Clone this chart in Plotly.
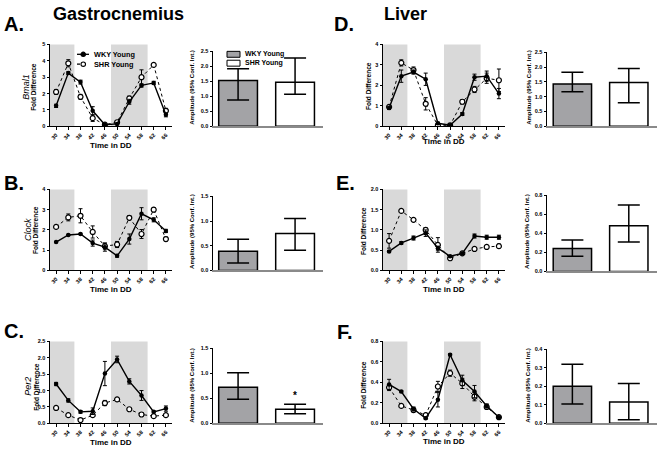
import plotly.graph_objects as go

W, H = 661, 451
FONT = "Arial, Liberation Sans, sans-serif"

# ---------------- data ----------------
time_dd = [30, 34, 38, 42, 46, 50, 54, 58, 62, 66]
night_bands = [(28, 36), (48, 60)]
groups = ["WKY Young", "SHR Young"]

# Gastrocnemius
gas_bmal1_wky = [1.25, 3.25, 2.7, 0.95, 0.1, 0.15, 1.5, 2.5, 2.65, 0.7]
gas_bmal1_wky_err = [0.1, 0.08, 0.12, 0.25, 0.03, 0.05, 0.15, 0.1, 0.1, 0.12]
gas_bmal1_shr = [2.1, 3.85, 1.8, 0.5, 0.1, 0.25, 1.7, 3.0, 3.75, 0.95]
gas_bmal1_shr_err = [0.15, 0.22, 0.15, 0.2, 0.03, 0.05, 0.15, 0.45, 0.06, 0.15]

gas_clock_wky = [1.4, 1.75, 1.8, 1.35, 1.15, 0.72, 1.55, 2.8, 2.5, 1.95]
gas_clock_wky_err = [0.03, 0.03, 0.03, 0.15, 0.2, 0.07, 0.25, 0.3, 0.1, 0.08]
gas_clock_shr = [2.15, 2.62, 2.7, 1.9, 1.2, 1.28, 2.6, 1.8, 3.0, 1.55]
gas_clock_shr_err = [0.07, 0.17, 0.35, 0.3, 0.15, 0.15, 0.1, 0.22, 0.1, 0.1]

gas_per2_wky = [1.2, 0.7, 0.35, 0.37, 1.52, 1.95, 1.28, 0.85, 0.35, 0.45]
gas_per2_wky_err = [0.05, 0.05, 0.04, 0.1, 0.37, 0.1, 0.08, 0.15, 0.03, 0.08]
gas_per2_shr = [0.47, 0.25, 0.1, 0.25, 0.62, 0.73, 0.43, 0.27, 0.22, 0.25]
gas_per2_shr_err = [0.02, 0.02, 0.02, 0.04, 0.08, 0.02, 0.02, 0.05, 0.03, 0.04]

# Liver
liv_bmal1_wky = [0.9, 2.45, 2.65, 2.3, 0.15, 0.05, 0.6, 2.4, 2.45, 1.6]
liv_bmal1_wky_err = [0.08, 0.3, 0.1, 0.3, 0.05, 0.03, 0.07, 0.15, 0.25, 0.25]
liv_bmal1_shr = [0.95, 3.1, 2.75, 1.1, 0.05, 0.05, 1.2, 1.8, 2.35, 2.25]
liv_bmal1_shr_err = [0.05, 0.15, 0.15, 0.3, 0.03, 0.03, 0.1, 0.15, 0.25, 0.55]

liv_clock_wky = [0.47, 0.68, 0.8, 0.92, 0.55, 0.35, 0.42, 0.85, 0.82, 0.82]
liv_clock_wky_err = [0.02, 0.03, 0.05, 0.08, 0.05, 0.02, 0.02, 0.05, 0.05, 0.05]
liv_clock_shr = [0.73, 1.47, 1.25, 1.0, 0.63, 0.3, 0.42, 0.53, 0.58, 0.6]
liv_clock_shr_err = [0.18, 0.03, 0.02, 0.05, 0.18, 0.02, 0.02, 0.02, 0.02, 0.05]

liv_per2_wky = [0.38, 0.31, 0.14, 0.05, 0.23, 0.67, 0.42, 0.31, 0.17, 0.06]
liv_per2_wky_err = [0.05, 0.01, 0.02, 0.01, 0.07, 0.01, 0.05, 0.06, 0.02, 0.01]
liv_per2_shr = [0.35, 0.17, 0.13, 0.08, 0.36, 0.49, 0.39, 0.26, 0.16, 0.06]
liv_per2_shr_err = [0.03, 0.01, 0.02, 0.01, 0.05, 0.03, 0.05, 0.04, 0.02, 0.01]

# Amplitudes (95% CI)
gas_bmal1_amp = [1.53, 1.47]; gas_bmal1_lo = [0.88, 1.07]; gas_bmal1_hi = [1.92, 2.28]
gas_clock_amp = [0.39, 0.75]; gas_clock_lo = [0.15, 0.41]; gas_clock_hi = [0.63, 1.05]
gas_per2_amp = [0.72, 0.28]; gas_per2_lo = [0.48, 0.19]; gas_per2_hi = [1.01, 0.38]
liv_bmal1_amp = [1.43, 1.48]; liv_bmal1_lo = [1.17, 0.80]; liv_bmal1_hi = [1.83, 1.95]
liv_clock_amp = [0.24, 0.48]; liv_clock_lo = [0.16, 0.31]; liv_clock_hi = [0.33, 0.70]
liv_per2_amp = [0.20, 0.115]; liv_per2_lo = [0.105, 0.02]; liv_per2_hi = [0.32, 0.215]

# ---------------- panel definitions ----------------
line_panels = [
    dict(wky=gas_bmal1_wky, we=gas_bmal1_wky_err, shr=gas_bmal1_shr, se=gas_bmal1_shr_err,
         yr=[0, 5], dt=1, fmt="d", x=(50, 172), y=(42, 125), gene="Bmal1", gx=26, fx=34, ty=85, tdd=144),
    dict(wky=gas_clock_wky, we=gas_clock_wky_err, shr=gas_clock_shr, se=gas_clock_shr_err,
         yr=[0, 4], dt=1, fmt="d", x=(50, 172), y=(189, 271), gene="Clock", gx=28, fx=36, ty=230, tdd=290),
    dict(wky=gas_per2_wky, we=gas_per2_wky_err, shr=gas_per2_shr, se=gas_per2_shr_err,
         yr=[0, 2.5], dt=0.5, fmt=".1f", x=(50, 172), y=(343, 426), gene="Per2", gx=28, fx=37, ty=389, tdd=445),
    dict(wky=liv_bmal1_wky, we=liv_bmal1_wky_err, shr=liv_bmal1_shr, se=liv_bmal1_shr_err,
         yr=[0, 4], dt=1, fmt="d", x=(383, 505), y=(42, 125), gene=None, fx=369, ty=84, tdd=140),
    dict(wky=liv_clock_wky, we=liv_clock_wky_err, shr=liv_clock_shr, se=liv_clock_shr_err,
         yr=[0, 2], dt=0.5, fmt=".1f", x=(383, 505), y=(189, 271), gene=None, fx=364, ty=231, tdd=290),
    dict(wky=liv_per2_wky, we=liv_per2_wky_err, shr=liv_per2_shr, se=liv_per2_shr_err,
         yr=[0, 0.8], dt=0.2, fmt=".1f", x=(383, 505), y=(343, 426), gene=None, fx=364, ty=387, tdd=444),
]

bar_panels = [
    dict(amp=gas_bmal1_amp, lo=gas_bmal1_lo, hi=gas_bmal1_hi, yr=[0, 2.5], dt=0.5,
         x=(213, 323), xr=[-0.44, 1.49], y=(49, 125), tx=192, ty=86, star=False),
    dict(amp=gas_clock_amp, lo=gas_clock_lo, hi=gas_clock_hi, yr=[0, 1.5], dt=0.5,
         x=(213, 323), xr=[-0.44, 1.49], y=(196, 271), tx=192, ty=232, star=False),
    dict(amp=gas_per2_amp, lo=gas_per2_lo, hi=gas_per2_hi, yr=[0, 1.5], dt=0.5,
         x=(213, 323), xr=[-0.44, 1.49], y=(350, 426), tx=192, ty=388, star=True),
    dict(amp=liv_bmal1_amp, lo=liv_bmal1_lo, hi=liv_bmal1_hi, yr=[0, 2.5], dt=0.5,
         x=(547, 657), xr=[-0.45, 1.5], y=(50, 125), tx=529, ty=86, star=False),
    dict(amp=liv_clock_amp, lo=liv_clock_lo, hi=liv_clock_hi, yr=[0, 0.8], dt=0.2,
         x=(547, 657), xr=[-0.45, 1.5], y=(195, 272), tx=527, ty=232, star=False),
    dict(amp=liv_per2_amp, lo=liv_per2_lo, hi=liv_per2_hi, yr=[0, 0.4], dt=0.1,
         x=(547, 657), xr=[-0.45, 1.5], y=(351, 426), tx=528, ty=388, star=False),
]


def PX(px):
    return px / W


def PY(py):
    return 1 - py / H


def names(n):
    s = "" if n == 1 else str(n)
    return f"x{s}", f"y{s}", f"xaxis{s}", f"yaxis{s}"


def note(text, x, y, size, angle=0, xanchor="center", bold=True, italic=False):
    return dict(text=f"<i>{text}</i>" if italic else text, x=PX(x), y=PY(y),
                xref="paper", yref="paper", xanchor=xanchor, yanchor="middle",
                textangle=angle, showarrow=False,
                font=dict(family=FONT, size=size, color="black",
                          weight="bold" if bold else "normal"))


fig = go.Figure()
layout = dict(shapes=[], annotations=[])
tickfont = dict(family=FONT, size=5.5, color="black", weight="bold")

n = 0
for p in line_panels:
    n += 1
    xa, ya, xk, yk = names(n)
    layout[xk] = dict(
        domain=[PX(p["x"][0]), PX(p["x"][1])], anchor=ya, range=[28, 68],
        tickvals=time_dd, tickangle=-45, tickfont=tickfont, showline=True, linecolor="black",
        linewidth=1, ticks="outside", ticklen=2.5, tickcolor="black", showgrid=False, zeroline=False)
    layout[yk] = dict(
        domain=[PY(p["y"][1]), PY(p["y"][0])], anchor=xa, range=p["yr"], dtick=p["dt"],
        tickformat=p["fmt"], tickfont=tickfont, showline=True, linecolor="black", linewidth=1,
        ticks="outside", ticklen=2.5, tickcolor="black", showgrid=False, zeroline=False)
    for a, b in night_bands:
        layout["shapes"].append(dict(type="rect", xref=xa, yref=f"{ya} domain", x0=a, x1=b,
                                     y0=0, y1=1, fillcolor="#d9d9d9", line=dict(width=0),
                                     layer="below"))
    fig.add_trace(go.Scatter(
        x=time_dd, y=p["shr"], mode="lines+markers", xaxis=xa, yaxis=ya, showlegend=False,
        line=dict(color="black", width=1, dash="dot"),
        marker=dict(symbol="circle", size=5, color="white", line=dict(color="black", width=1.2)),
        error_y=dict(type="data", array=p["se"], color="black", thickness=1, width=2)))
    fig.add_trace(go.Scatter(
        x=time_dd, y=p["wky"], mode="lines+markers", xaxis=xa, yaxis=ya, showlegend=False,
        line=dict(color="black", width=1.4),
        marker=dict(symbol="circle", size=4.5, color="black"),
        error_y=dict(type="data", array=p["we"], color="black", thickness=1, width=2)))
    xc = (p["x"][0] + p["x"][1]) / 2
    layout["annotations"].append(note("Time in DD", xc, p["tdd"], 8))
    layout["annotations"].append(note("Fold Difference", p["fx"], p["ty"], 6.5, angle=-90))
    if p["gene"]:
        layout["annotations"].append(note(p["gene"], p["gx"], p["ty"], 9, angle=-90,
                                          bold=False, italic=True))

for p in bar_panels:
    n += 1
    xa, ya, xk, yk = names(n)
    layout[xk] = dict(
        domain=[PX(p["x"][0]), PX(p["x"][1])], anchor=ya, range=p["xr"], showticklabels=False,
        showline=True, linecolor="#8a8a8a", linewidth=2, ticks="", showgrid=False, zeroline=False)
    layout[yk] = dict(
        domain=[PY(p["y"][1]), PY(p["y"][0])], anchor=xa, range=p["yr"], dtick=p["dt"],
        tickformat=".1f", tickfont=tickfont, showline=True, linecolor="black", linewidth=1,
        ticks="outside", ticklen=2.5, tickcolor="black", showgrid=False, zeroline=False)
    plus = [h - a for h, a in zip(p["hi"], p["amp"])]
    minus = [a - l for a, l in zip(p["amp"], p["lo"])]
    fig.add_trace(go.Bar(
        x=[0, 1], y=p["amp"], width=0.68, xaxis=xa, yaxis=ya, showlegend=False,
        marker=dict(color=["#a3a3a6", "white"], line=dict(color="black", width=1.5)),
        error_y=dict(type="data", symmetric=False, array=plus, arrayminus=minus,
                     color="black", thickness=1.5, width=11)))
    layout["annotations"].append(note("Amplitude (95% Conf. Int.)", p["tx"], p["ty"], 6, angle=-90))
    if p["star"]:
        layout["annotations"].append(dict(
            text="<b>*</b>", x=1, y=p["hi"][1] + 0.03, xref=xa, yref=ya, yanchor="bottom",
            xanchor="center", showarrow=False, font=dict(family=FONT, size=10, color="#000000")))

letters = [("A.", 14, 21), ("B.", 14, 182), ("C.", 14, 332),
           ("D.", 344, 21), ("E.", 345, 182), ("F.", 345, 333)]
for t, x, y in letters:
    layout["annotations"].append(note(t, x, y, 20))
for t, x in [("Gastrocnemius", 118), ("Liver", 405)]:
    layout["annotations"].append(note(t, x, 11, 18))

# legend for line plot A
for i, (g, yy) in enumerate(zip(groups, [52, 62])):
    layout["shapes"].append(dict(type="line", xref="paper", yref="paper", x0=PX(77), x1=PX(89),
                                 y0=PY(yy), y1=PY(yy),
                                 line=dict(color="black", width=1.3, dash="solid" if i == 0 else "dot")))
    layout["shapes"].append(dict(type="circle", xref="paper", yref="paper",
                                 x0=PX(81), x1=PX(85.5), y0=PY(yy - 2.2), y1=PY(yy + 2.2),
                                 fillcolor="black" if i == 0 else "white",
                                 line=dict(color="black", width=1.1)))
    layout["annotations"].append(note(g, 92, yy, 7.3, xanchor="left"))
# legend for bar plot A
for i, (g, yy) in enumerate(zip(groups, [52, 61])):
    layout["shapes"].append(dict(type="rect", xref="paper", yref="paper", x0=PX(227), x1=PX(240),
                                 y0=PY(yy - 3), y1=PY(yy + 3),
                                 fillcolor="#a3a3a6" if i == 0 else "white",
                                 line=dict(color="black", width=1)))
    layout["annotations"].append(note(g, 243, yy, 7, xanchor="left"))

fig.update_layout(
    width=W, height=H, margin=dict(l=0, r=0, t=0, b=0),
    paper_bgcolor="white", plot_bgcolor="rgba(0,0,0,0)", showlegend=False,
    font=dict(family=FONT, color="black"), bargap=0.3, **layout)

fig.write_html("out.html", config={"displayModeBar": False},
               post_script="document.body.style.margin='0px';document.body.style.padding='0px';")
